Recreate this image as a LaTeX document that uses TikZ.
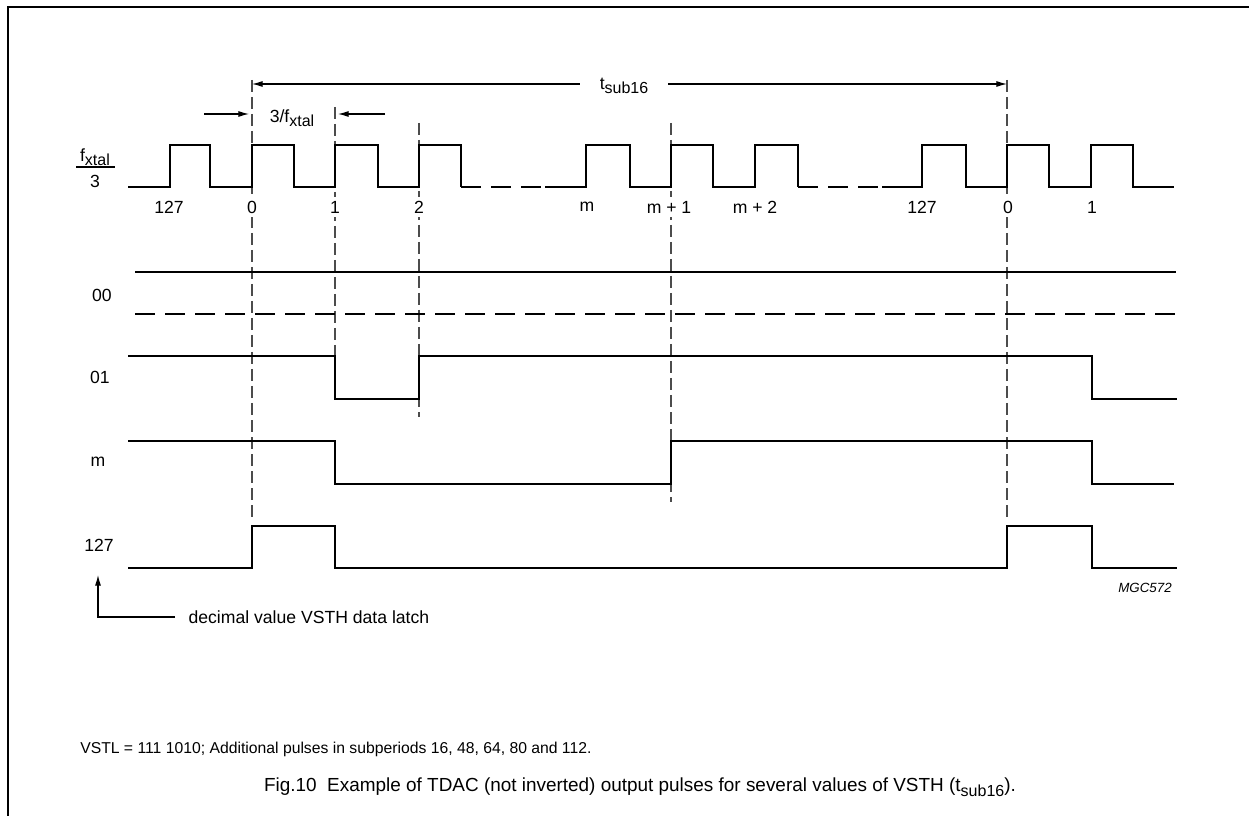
\documentclass[tikz,border=0pt]{standalone}
\usepackage{fontspec}
\setmainfont{Liberation Sans}
\usetikzlibrary{arrows.meta}
\newcommand\lowsub[1]{\raisebox{-0.45ex}{\fontsize{12}{12}\selectfont #1}}
\begin{document}
\begin{tikzpicture}[x=0.75pt,y=-0.75pt,
  sig/.style={line width=2.1pt, line join=miter},
  gapdash/.style={line width=2.1pt, dash pattern=on 15pt off 7.5pt},
  vdash/.style={line width=0.8pt, draw=black!70, dash pattern=on 9pt off 3.75pt},
  lbl/.style={font=\fontsize{13.2}{15}\selectfont, inner sep=1pt},
  clk/.style={lbl, fill=white, inner xsep=1pt, inner ysep=3pt},
  dimarrow/.style={line width=0.8pt, -{Latex[length=8pt,width=4.5pt]}},
  frame/.style={line width=1.1pt}]
\path[use as bounding box] (0,0) rectangle (1249,816);
\draw[frame] (8,816) -- (8,7) -- (1249,7);

% vertical dashed reference lines
\draw[vdash] (252,80) -- (252,517);
\draw[vdash] (335,107) -- (335,356);
\draw[vdash] (419,123) -- (419,417);
\draw[vdash] (671,123) -- (671,502);
\draw[vdash] (1007,80) -- (1007,517);

% clock
\draw[sig] (128,187) -- (170,187) -- (170,145) -- (210,145) -- (210,187) -- (252,187) -- (252,145) -- (294,145) -- (294,187) -- (335,187) -- (335,145) -- (378,145) -- (378,187) -- (419,187) -- (419,145) -- (461,145) -- (461,187);
\draw[gapdash] (461,187) -- (545,187);
\draw[sig] (545,187) -- (586,187) -- (586,145) -- (630,145) -- (630,187) -- (671,187) -- (671,145) -- (713,145) -- (713,187) -- (755,187) -- (755,145) -- (798,145) -- (798,187);
\draw[gapdash] (798,187) -- (882,187);
\draw[sig] (882,187) -- (922,187) -- (922,145) -- (966,145) -- (966,187) -- (1007,187) -- (1007,145) -- (1049,145) -- (1049,187) -- (1091,187) -- (1091,145) -- (1133,145) -- (1133,187) -- (1174,187);

% clock labels
\node[clk] (c127a) at (169,207) {127};
\node[clk] (c0a) at (252,207) {0};
\node[clk] (c1a) at (335,207) {1};
\node[clk] (c2) at (419,207) {2};
\node[clk] (cm) at (587,207) {m};
\node[clk] (cm1) at (669,207) {m + 1};
\node[clk] (cm2) at (755,207) {m + 2};
\node[clk] (c127b) at (922,207) {127};
\node[clk] (c0b) at (1008,207) {0};
\node[clk] (c1b) at (1092,207) {1};

% fxtal/3 label
\node[lbl] (fx) at (95,157) {f\lowsub{xtal}};
\draw[line width=0.8pt] (76,167) -- (115,167);
\node[lbl] (three) at (95,181) {3};

% tsub16 dimension
\coordinate (tA) at (252,84);
\coordinate (tB) at (1007,84);
\node[lbl, minimum width=66pt, inner sep=0pt] (tsub) at (624,86) {t\lowsub{sub16}};
\draw[dimarrow] (tA -| tsub.west) -- (tA);
\draw[dimarrow] (tB -| tsub.east) -- (tB);

% 3/fxtal dimension
\coordinate (pL0) at (204,114);
\coordinate (pL1) at (249,114);
\coordinate (pR0) at (385,114);
\coordinate (pR1) at (338,114);
\draw[dimarrow] (pL0) -- (pL1);
\draw[dimarrow] (pR0) -- (pR1);
\node[lbl] (per) at (292,118) {3/f\lowsub{xtal}};

% row 00
\draw[sig] (135,272) -- (1176,272);
\draw[gapdash] (135,314) -- (1176,314);
\node[lbl] (l00) at (102,295) {00};

% row 01
\draw[sig] (128,356) -- (335,356) -- (335,399) -- (419,399) -- (419,356) -- (1092,356) -- (1092,399) -- (1177,399);
\node[lbl] (l01) at (100,377) {01};

% row m
\draw[sig] (128,441) -- (335,441) -- (335,484) -- (671,484) -- (671,441) -- (1092,441) -- (1092,484) -- (1174,484);
\node[lbl] (lm) at (98,462) {m};

% row 127
\draw[sig] (128,568) -- (252,568) -- (252,526) -- (335,526) -- (335,568) -- (1007,568) -- (1007,526) -- (1092,526) -- (1092,568) -- (1177,568);
\node[lbl] (l127) at (99,545) {127};

% decimal value annotation
\node[lbl, anchor=west] (dec) at (187,617) {decimal value VSTH data latch};
\coordinate (decCorner) at (98,617);
\coordinate (decTip) at (98,575);
\draw[line width=0.8pt, -{Latex[length=8pt,width=4.5pt]}] (175,617) -- (decCorner) -- (decTip);

\node[font=\fontsize{10}{12}\selectfont\itshape, inner sep=0pt] (mgc) at (1145,588) {MGC572};

\node[font=\fontsize{11.8}{14}\selectfont, anchor=west, inner sep=0pt] (vstl) at (80,749) {VSTL = 111 1010; Additional pulses in subperiods 16, 48, 64, 80 and 112.};

\node[font=\fontsize{14.2}{16}\selectfont, inner sep=0pt] (cap) at (640,787) {Fig.10\ \ Example of TDAC (not inverted) output pulses for several values of VSTH (t\lowsub{sub16}).};
\end{tikzpicture}
\end{document}
